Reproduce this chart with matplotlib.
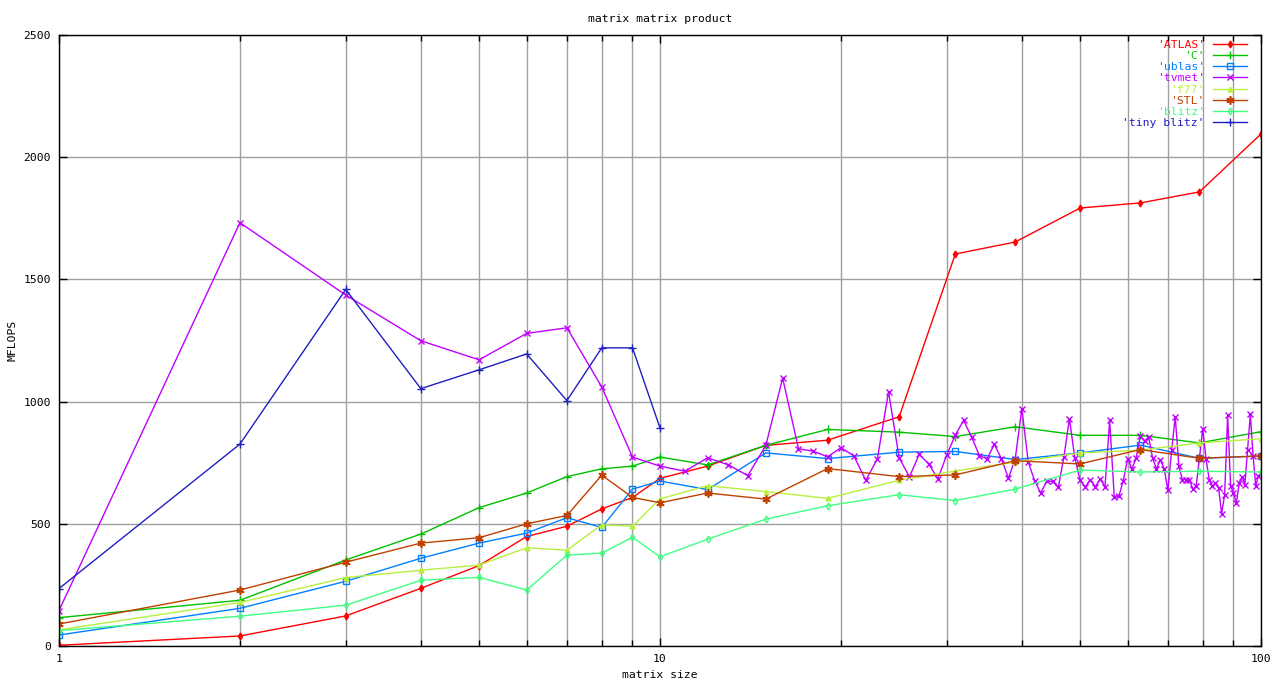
import matplotlib
matplotlib.use("Agg")
import matplotlib.pyplot as plt
from matplotlib.ticker import LogLocator, FixedLocator, NullFormatter, FixedFormatter

# ---------------- data ----------------
x_small = [1, 2, 3, 4, 5, 6, 7, 8, 9, 10]
x_sizes = [1, 2, 3, 4, 5, 6, 7, 8, 9, 10, 12, 15, 19, 25, 31, 39, 50, 63, 79, 100]
x_tvmet = list(range(1, 101))

atlas = [3, 41, 123, 236, 329, 448, 490, 561, 608, 686,
         736, 821, 842, 938, 1604, 1653, 1792, 1813, 1858, 2095]
c_vals = [116, 187, 352, 458, 566, 626, 693, 725, 736, 773,
          741, 821, 886, 875, 857, 897, 862, 862, 831, 877]
ublas = [45, 154, 265, 359, 421, 462, 525, 485, 642, 675,
         640, 790, 767, 793, 796, 763, 790, 822, 768, 777]
f77 = [66, 178, 280, 310, 331, 402, 392, 496, 490, 602,
       656, 632, 604, 678, 716, 752, 790, 801, 831, 848]
stl = [90, 229, 343, 421, 443, 500, 534, 699, 608, 586,
       626, 601, 726, 693, 700, 758, 745, 804, 768, 778]
blitz = [63, 122, 167, 269, 281, 229, 372, 380, 445, 365,
         437, 519, 574, 619, 595, 642, 720, 712, 715, 712]
tiny_blitz = [235, 826, 1459, 1053, 1130, 1195, 1004, 1220, 1220, 892]
tvmet = [145, 1732, 1436, 1249, 1171, 1279, 1302, 1060, 773, 736,
         715, 770, 741, 697, 821, 1096, 807, 797, 774, 811,
         779, 678, 766, 1040, 770, 692, 784, 745, 684, 782,
         863, 923, 855, 779, 766, 825, 766, 686, 766, 971,
         752, 677, 626, 674, 674, 649, 774, 930, 770, 678,
         651, 681, 651, 684, 651, 923, 608, 612, 677, 766,
         725, 770, 860, 838, 856, 770, 725, 763, 725, 637,
         800, 937, 736, 681, 681, 681, 642, 653, 770, 889,
         766, 681, 653, 667, 647, 541, 619, 944, 656, 626,
         585, 667, 692, 660, 804, 948, 779, 653, 697, 705]

title = "matrix matrix product"
xlabel = "matrix size"
ylabel = "MFLOPS"
y_ticks = [0, 500, 1000, 1500, 2000, 2500]
x_ticks = [1, 10, 100]

# ---------------- style ----------------
FONT = "DejaVu Sans Mono"
FS = 8.2
plt.rcParams['font.family'] = FONT

fig = plt.figure(figsize=(12.8, 6.8), dpi=100)
ax = fig.add_axes([59/1280, 1 - 646/680, (1261-59)/1280, (646-35)/680])

series = [
    ("'ATLAS'", x_sizes, atlas, "#ff0000", dict(marker="d", ms=3.5, mfc="#ff0000")),
    ("'C'", x_sizes, c_vals, "#00c000", dict(marker="+", ms=6, mew=1)),
    ("'ublas'", x_sizes, ublas, "#0080ff", dict(marker="s", ms=4.5, mfc="none", mew=1)),
    ("'tvmet'", x_tvmet, tvmet, "#c000ff", dict(marker="x", ms=4.5, mew=1)),
    ("'f77'", x_sizes, f77, "#b8f040", dict(marker="^", ms=3.5)),
    ("'STL'", x_sizes, stl, "#c04000", dict(marker=(6, 2, 0), ms=6, mew=1.2)),
    ("'blitz'", x_sizes, blitz, "#40ff80", dict(marker="d", ms=3.5, mfc="none", mew=1)),
    ("'tiny blitz'", x_small, tiny_blitz, "#2020c0", dict(marker="+", ms=6, mew=1)),
]

for label, xs, ys, col, mk in series:
    ax.plot(xs, ys, color=col, lw=1.0, label=label, zorder=3, **mk)

ax.set_xscale("log")
ax.set_xlim(1, 100)
ax.set_ylim(0, 2500)

ax.xaxis.set_major_locator(FixedLocator(x_ticks))
ax.xaxis.set_major_formatter(FixedFormatter([str(v) for v in x_ticks]))
ax.xaxis.set_minor_locator(LogLocator(base=10, subs=range(2, 10)))
ax.xaxis.set_minor_formatter(NullFormatter())
ax.yaxis.set_major_locator(FixedLocator(y_ticks))
ax.set_yticklabels([str(v) for v in y_ticks])

ax.grid(True, which="major", color="#a0a0a0", lw=1.0, zorder=1)
ax.grid(True, which="minor", axis="x", color="#a0a0a0", lw=1.0, zorder=1)

ax.tick_params(which="both", direction="in", top=True, right=True,
               labelsize=FS, colors="black", width=1)
ax.tick_params(which="major", length=6, pad=6)
ax.tick_params(which="minor", length=4)
for sp in ax.spines.values():
    sp.set_color("black")
    sp.set_linewidth(1.0)
    sp.set_zorder(4)

ax.set_title(title, fontsize=FS, pad=9)
ax.set_xlabel(xlabel, fontsize=FS, labelpad=4)
ax.set_ylabel(ylabel, fontsize=FS)
ax.yaxis.set_label_coords((17 - 59) / 1202, 0.5)

leg = ax.legend(loc="upper right", bbox_to_anchor=(1 - 14/1202, 1 - 5/611),
                frameon=False, markerfirst=False, labelcolor="linecolor",
                fontsize=FS, handlelength=3.0, handletextpad=0.7,
                labelspacing=0.1, borderaxespad=0.0, borderpad=0.0)
for t in leg.get_texts():
    t.set_ha("right")

fig.savefig("out.png", dpi=100, facecolor="white")
